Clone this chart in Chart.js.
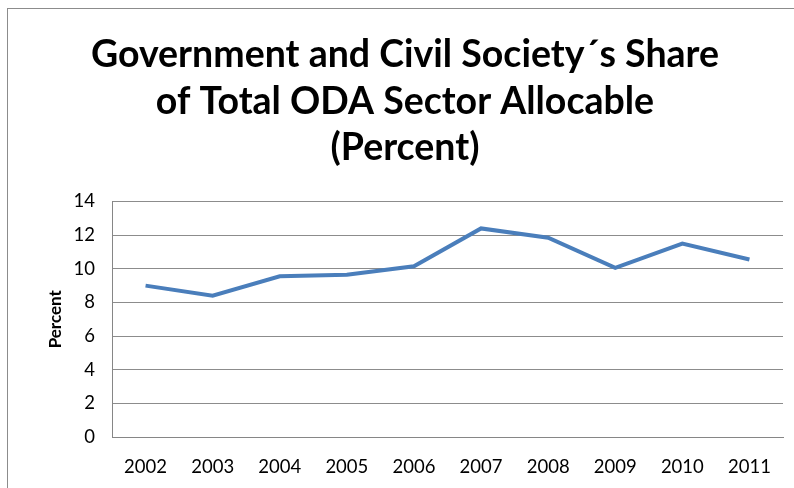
<!DOCTYPE html>
<html>
<head>
<meta charset="utf-8">
<script src="https://cdn.jsdelivr.net/npm/chart.js@4/dist/chart.umd.min.js"></script>
<style>
  html, body { margin: 0; padding: 0; background: #fff; }
  #wrap { width: 794px; height: 488px; }
</style>
</head>
<body>
<div id="wrap"><canvas id="odaChart" width="794" height="488"></canvas></div>
<script>
// Share of total ODA sector allocable going to government and civil society
const years = ['2002', '2003', '2004', '2005', '2006', '2007', '2008', '2009', '2010', '2011'];
const sharePercent = [9.0, 8.4, 9.55, 9.65, 10.15, 12.4, 11.85, 10.05, 11.5, 10.55];
const yTicks = [0, 2, 4, 6, 8, 10, 12, 14];

const titleLines = ['Government and Civil Society\u00b4s Share', 'of Total ODA Sector Allocable', '(Percent)'];

// thin frame around the whole chart
const frame = {
    id: 'frame',
    beforeDraw(chart) {
        const c = chart.ctx;
        c.save();
        c.fillStyle = '#fff';
        c.fillRect(0, 0, chart.width, chart.height);
        c.strokeStyle = '#8c8c8c';
        c.lineWidth = 1;
        c.strokeRect(7.5, 8.5, chart.width + 10, chart.height + 10);
        c.restore();
    }
};

const ctx = document.getElementById('odaChart').getContext('2d');
new Chart(ctx, {
    type: 'line',
    data: {
        labels: years,
        datasets: [{
            label: 'Percent',
            data: sharePercent,
            borderColor: '#4a7ebb',
            borderWidth: 4,
            pointRadius: 0,
            tension: 0,
            fill: false
        }]
    },
    options: {
        responsive: false,
        animation: false,
        layout: { padding: { left: 16, right: 0, top: 0, bottom: 0 } },
        plugins: {
            legend: { display: false },
            tooltip: { enabled: false },
            title: {
                display: true,
                text: titleLines,
                color: '#000',
                font: { family: 'Lato', size: 37.5, weight: 'bold', lineHeight: 1.24 },
                padding: { top: 32, bottom: 30 }
            }
        },
        scales: {
            x: {
                offset: true,
                afterFit(axis) {
                    axis.height = 51;
                },
                grid: { display: false, drawTicks: false },
                border: { display: true, color: '#868686', width: 1 },
                ticks: { color: '#000', font: { family: 'Lato', size: 18.5 }, padding: 19, maxRotation: 0 }
            },
            y: {
                min: 0,
                max: 14,
                afterBuildTicks(axis) {
                    axis.ticks = yTicks.map(v => ({ value: v }));
                },
                afterFit(axis) {
                    axis.width = 96;
                },
                grid: { color: '#8c8c8c', lineWidth: 1, drawTicks: false },
                border: { display: true, color: '#868686', width: 1 },
                ticks: { color: '#000', font: { family: 'Lato', size: 18.5 }, padding: 17 },
                title: {
                    display: true,
                    text: 'Percent',
                    color: '#000',
                    font: { family: 'Lato', size: 17, weight: 'bold' },
                    padding: { top: 29, bottom: 0 }
                }
            },
            // empty strip on the right so the plot stops short of the frame
            yRight: {
                position: 'right',
                min: 0,
                max: 14,
                afterFit(axis) {
                    axis.width = 11;
                },
                grid: { display: false, drawTicks: false },
                border: { display: false },
                ticks: { display: false }
            }
        }
    },
    plugins: [frame]
});
</script>
</body>
</html>
